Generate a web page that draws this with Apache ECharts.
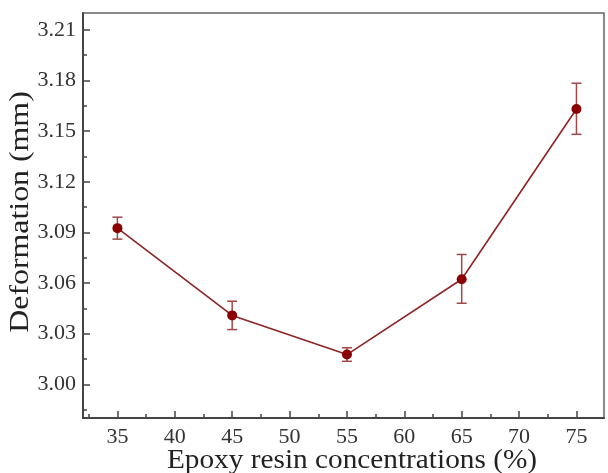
<!DOCTYPE html>
<html>
<head>
<meta charset="utf-8">
<script src="https://cdn.jsdelivr.net/npm/echarts@6/dist/echarts.min.js"></script>
<style>
  html, body { margin: 0; padding: 0; background: #fff; }
  #main { width: 608px; height: 473px; }
</style>
</head>
<body>
<div id="main"></div>
<script>
// epoxy resin concentration (%)
var concentrations = [35, 45, 55, 65, 75];
// mean deformation (mm)
var deformation = [3.0925, 3.0408, 3.0176, 3.0622, 3.1631];
// error bar half widths
var errLow = [0.0065, 0.0084, 0.0040, 0.0142, 0.0150];
var errHigh = [0.0065, 0.0084, 0.0040, 0.0147, 0.0153];

var xMajor = [35, 40, 45, 50, 55, 60, 65, 70, 75];
var xMinor = [32.5, 37.5, 42.5, 47.5, 52.5, 57.5, 62.5, 67.5, 72.5, 77.5];
var yMajor = [3.00, 3.03, 3.06, 3.09, 3.12, 3.15, 3.18, 3.21];
var yMinor = [2.985, 3.015, 3.045, 3.075, 3.105, 3.135, 3.165, 3.195];

var xTitle = 'Epoxy resin concentrations (%)';
var yTitle = 'Deformation (mm)';

var font = "'Liberation Serif', 'DejaVu Serif', serif";
var axisColor = '#444';

var lineData = concentrations.map(function (x, i) { return [x, deformation[i]]; });
var errData = concentrations.map(function (x, i) {
    return [x, deformation[i] - errLow[i], deformation[i] + errHigh[i]];
});

var chart = echarts.init(document.getElementById('main'));

chart.setOption({
    animation: false,
    grid: {
        left: 83, top: 13, right: 4, bottom: 55,
        outerBoundsMode: 'none', containLabel: false,
        show: true, borderColor: '#666', borderWidth: 1.5
    },
    // axis titles, slightly stretched like the original scan
    graphic: [{
        type: 'text', x: 352, y: 461, scaleX: 1.085,
        style: { text: xTitle, font: '27px ' + font, fill: '#222', align: 'center', verticalAlign: 'middle' }
    }, {
        type: 'text', x: 21, y: 212, rotation: Math.PI / 2, scaleX: 1.18,
        style: { text: yTitle, font: '27px ' + font, fill: '#222', align: 'center', verticalAlign: 'middle' }
    }],
    xAxis: [{
        type: 'value', min: 32, max: 77.4,
        axisLine: { lineStyle: { color: axisColor, width: 2 } },
        axisTick: { inside: true, length: 7, customValues: xMajor, lineStyle: { color: axisColor, width: 1.5 } },
        axisLabel: { customValues: xMajor, margin: 8, fontFamily: font, fontSize: 22, color: '#333' },
        splitLine: { show: false }
    }, {
        type: 'value', min: 32, max: 77.4, position: 'bottom',
        axisLine: { show: false },
        axisTick: { inside: true, length: 4, customValues: xMinor, lineStyle: { color: axisColor, width: 1.5 } },
        axisLabel: { show: false },
        splitLine: { show: false }
    }],
    yAxis: [{
        type: 'value', min: 2.98, max: 3.22,
        axisLine: { show: true, lineStyle: { color: axisColor, width: 2 } },
        axisTick: { show: true, inside: true, length: 7, customValues: yMajor, lineStyle: { color: axisColor, width: 1.5 } },
        axisLabel: {
            customValues: yMajor, margin: 7, fontFamily: font, fontSize: 22, color: '#333',
            formatter: function (v) { return v.toFixed(2); }
        },
        splitLine: { show: false }
    }, {
        type: 'value', min: 2.98, max: 3.22, position: 'left',
        axisLine: { show: false },
        axisTick: { show: true, inside: true, length: 4, customValues: yMinor, lineStyle: { color: axisColor, width: 1.5 } },
        axisLabel: { show: false },
        splitLine: { show: false }
    }],
    series: [{
        type: 'custom',
        data: errData,
        z: 1,
        renderItem: function (params, api) {
            var x = api.value(0);
            var lo = api.coord([x, api.value(1)]);
            var hi = api.coord([x, api.value(2)]);
            var w = 5;
            var style = { stroke: '#a04848', lineWidth: 1.5 };
            return {
                type: 'group',
                children: [
                    { type: 'line', shape: { x1: lo[0], y1: lo[1], x2: hi[0], y2: hi[1] }, style: style },
                    { type: 'line', shape: { x1: lo[0] - w, y1: lo[1], x2: lo[0] + w, y2: lo[1] }, style: style },
                    { type: 'line', shape: { x1: hi[0] - w, y1: hi[1], x2: hi[0] + w, y2: hi[1] }, style: style }
                ]
            };
        }
    }, {
        type: 'line',
        data: lineData,
        z: 2,
        symbol: 'circle',
        symbolSize: 10,
        lineStyle: { color: '#8e2424', width: 1.6 },
        itemStyle: { color: '#8b0000' }
    }]
});
</script>
</body>
</html>
